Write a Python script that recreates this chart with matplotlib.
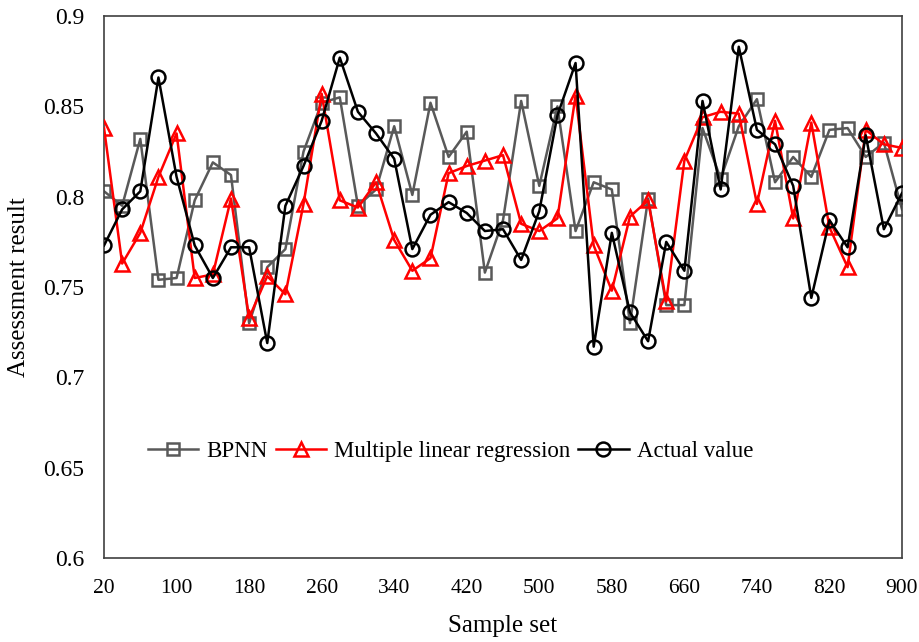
import matplotlib
matplotlib.use("Agg")
import matplotlib.pyplot as plt
import numpy as np

sample_set = list(range(20, 901, 20))

bpnn = [0.803, 0.795, 0.832, 0.754, 0.755, 0.798, 0.819, 0.812, 0.730, 0.761,
        0.771, 0.825, 0.852, 0.855, 0.795, 0.804, 0.839, 0.801, 0.852, 0.822,
        0.836, 0.758, 0.787, 0.853, 0.806, 0.850, 0.781, 0.808, 0.804, 0.730,
        0.799, 0.740, 0.740, 0.838, 0.810, 0.839, 0.854, 0.808, 0.822, 0.811,
        0.837, 0.838, 0.822, 0.830, 0.793]

mlr = [0.838, 0.763, 0.780, 0.811, 0.835, 0.755, 0.757, 0.799, 0.733, 0.756,
       0.746, 0.796, 0.857, 0.798, 0.794, 0.808, 0.776, 0.759, 0.766, 0.813,
       0.817, 0.820, 0.823, 0.785, 0.781, 0.788, 0.856, 0.773, 0.748, 0.789,
       0.798, 0.742, 0.820, 0.844, 0.847, 0.846, 0.796, 0.842, 0.788, 0.841,
       0.783, 0.761, 0.837, 0.829, 0.827]

actual = [0.773, 0.793, 0.803, 0.866, 0.811, 0.773, 0.755, 0.772, 0.772, 0.719,
          0.795, 0.817, 0.842, 0.877, 0.847, 0.835, 0.821, 0.771, 0.790, 0.797,
          0.791, 0.781, 0.782, 0.765, 0.792, 0.845, 0.874, 0.717, 0.780, 0.736,
          0.720, 0.775, 0.759, 0.853, 0.804, 0.883, 0.837, 0.829, 0.806, 0.744,
          0.787, 0.772, 0.834, 0.782, 0.802]

x_ticks = [20, 100, 180, 260, 340, 420, 500, 580, 660, 740, 820, 900]
y_ticks = [0.6, 0.65, 0.7, 0.75, 0.8, 0.85, 0.9]
y_tick_labels = ["0.6", "0.65", "0.7", "0.75", "0.8", "0.85", "0.9"]

plt.rcParams['font.family'] = ['Liberation Serif', 'DejaVu Serif']

fig = plt.figure(figsize=(9.19, 6.42), dpi=100)
ax = fig.add_axes([0.1132, 0.1308, 0.8683, 0.8442])

ax.plot(sample_set, bpnn, color='#595959', lw=1.8, marker='s', ms=9,
        mfc='none', mec='#595959', mew=1.8, label='BPNN', zorder=2)
ax.plot(sample_set, mlr, color='#ff0000', lw=1.8, marker='^', ms=10,
        mfc='none', mec='#ff0000', mew=1.8, label='Multiple linear regression', zorder=3)
ax.plot(sample_set, actual, color='black', lw=1.8, marker='o', ms=10,
        mfc='none', mec='black', mew=1.8, label='Actual value', zorder=4)

ax.set_xlim(20, 900)
ax.set_ylim(0.6, 0.9)
ax.set_xticks(x_ticks)
ax.set_yticks(y_ticks)
ax.set_yticklabels(y_tick_labels)
ax.tick_params(axis='both', length=0)
ax.tick_params(axis='x', pad=15, labelsize=15.5)
ax.tick_params(axis='y', pad=14, labelsize=17)
for s in ax.spines.values():
    s.set_color('#404040')
    s.set_linewidth(1.2)

ax.set_xlabel('Sample set', fontsize=18, labelpad=12)
ax.set_ylabel('Assessment result', fontsize=18, labelpad=10)

ax.legend(loc='center', bbox_to_anchor=(0.434, 0.196), ncol=3, frameon=False,
          fontsize=16.5, handlelength=2.2, columnspacing=0.35, handletextpad=0.35,
          borderaxespad=0)

fig.savefig('out.png', dpi=100)
